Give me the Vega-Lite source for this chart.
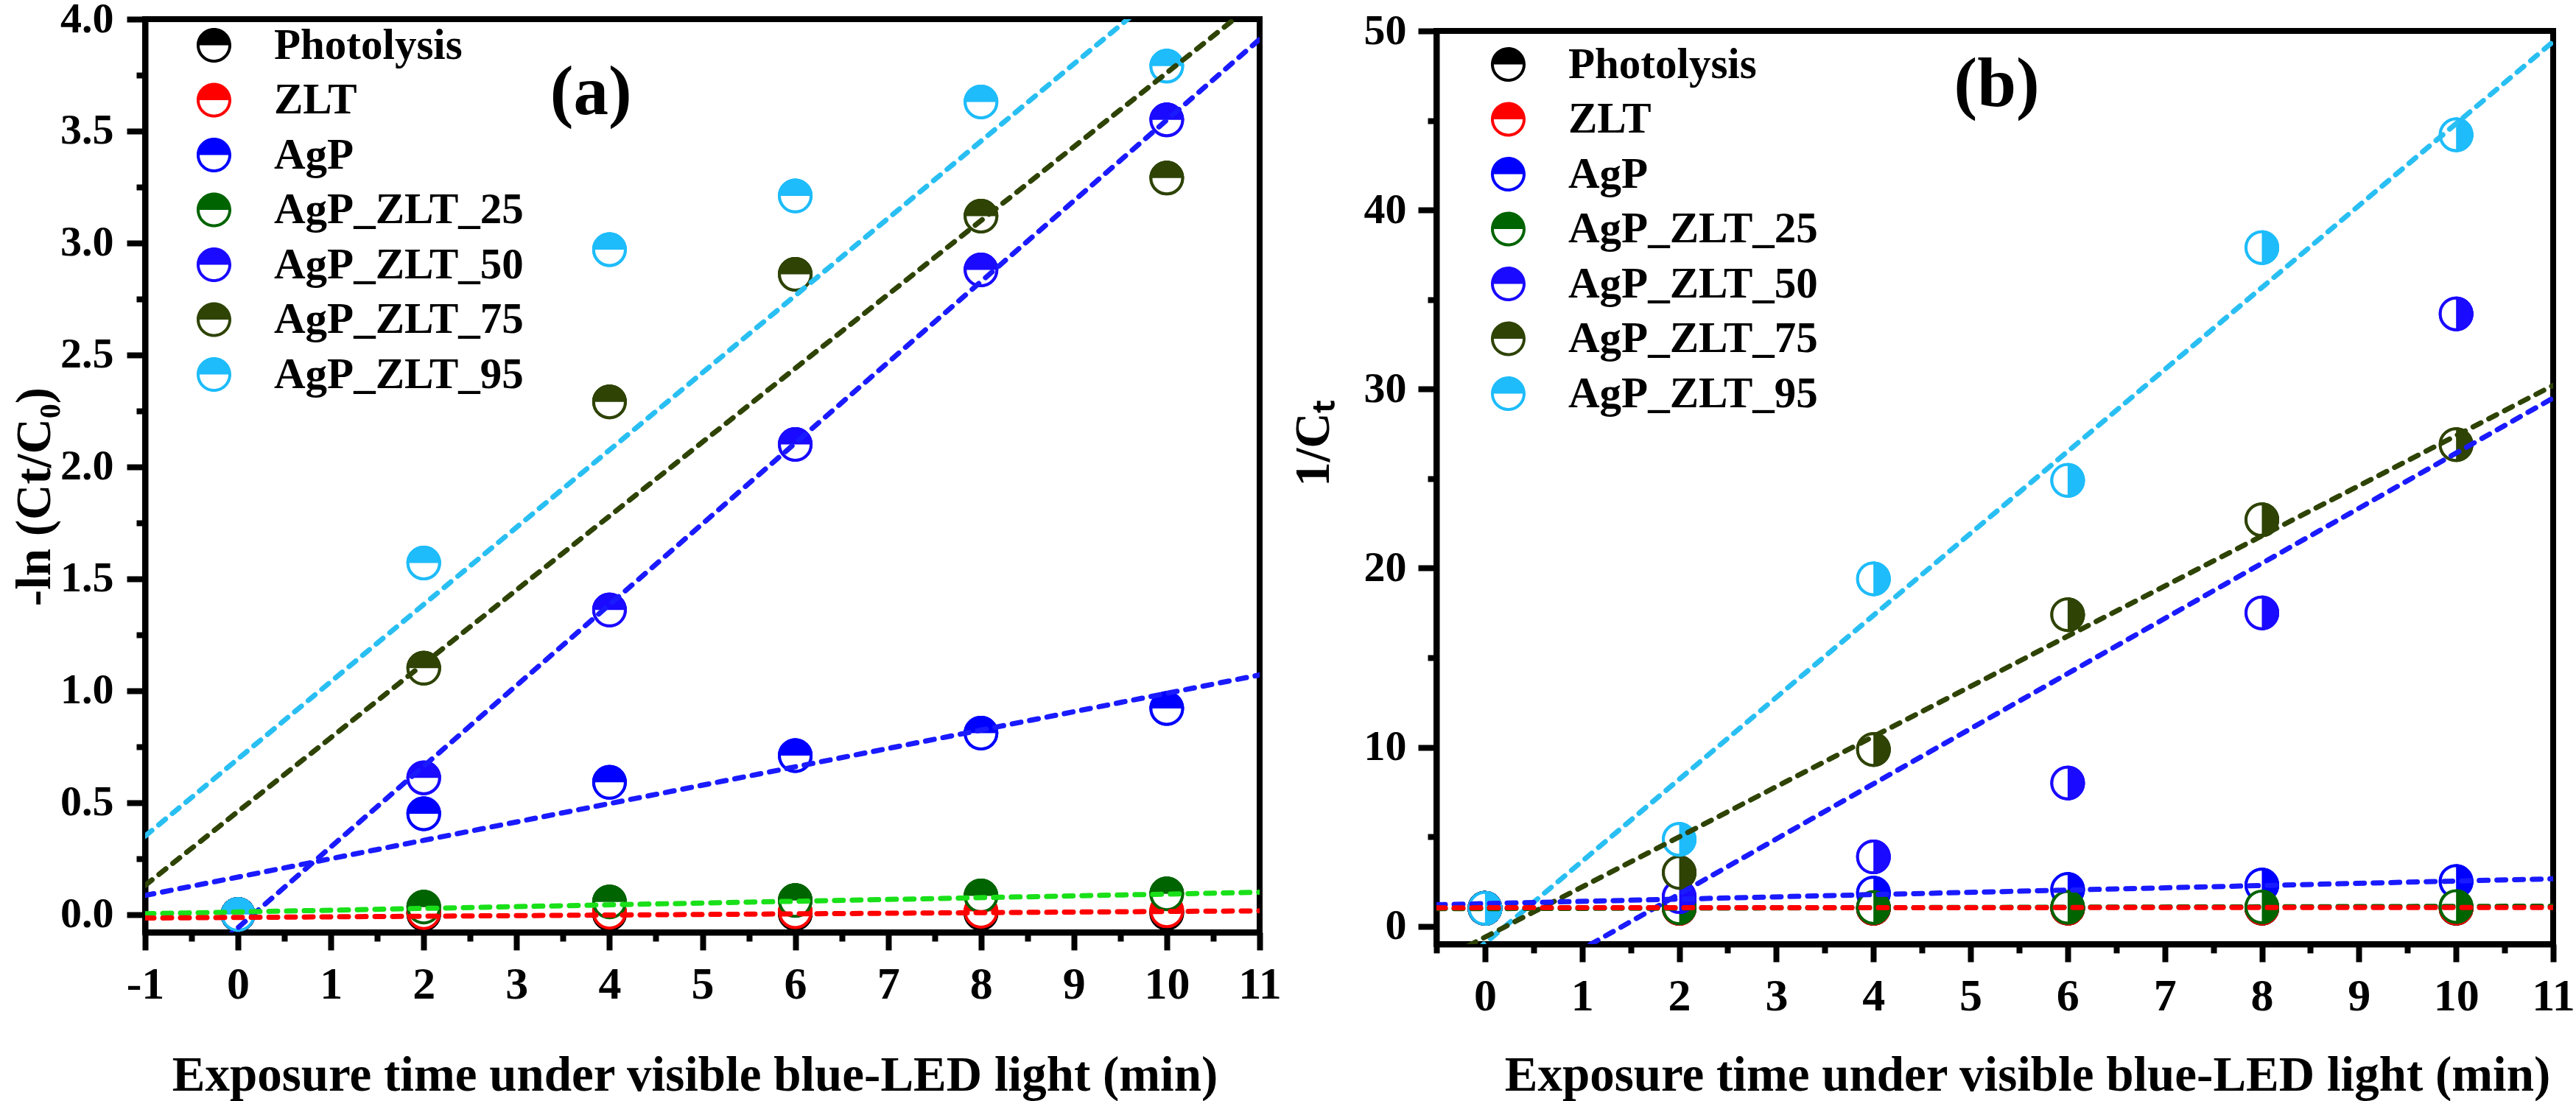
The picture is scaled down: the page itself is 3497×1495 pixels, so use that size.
{
  "$schema": "https://vega.github.io/schema/vega-lite/v6.json",
  "autosize": {"type": "pad"},
  "padding": {"left": 9, "top": -7, "right": 5, "bottom": 5},
  "background": "white",
  "config": {
    "font": "Liberation Serif",
    "view": {"stroke": "black", "strokeWidth": 8},
    "axis": {
      "domainColor": "black", "domainWidth": 8,
      "tickColor": "black", "tickWidth": 8,
      "grid": false, "zindex": 1,
      "labelFont": "Liberation Serif", "labelFontWeight": "bold", "labelColor": "black",
      "labelFlush": false, "labelOverlap": false, "labelBound": false,
      "titleFont": "Liberation Serif", "titleFontWeight": "bold", "titleColor": "black", "titleFontSize": 67
    }
  },
  "datasets": {
    "pts_a": [
      {"series": "Photolysis", "t": 0, "v": 0}, {"series": "Photolysis", "t": 2, "v": 0.002}, {"series": "Photolysis", "t": 4, "v": 0.003}, {"series": "Photolysis", "t": 6, "v": 0.004}, {"series": "Photolysis", "t": 8, "v": 0.005}, {"series": "Photolysis", "t": 10, "v": 0.006},
      {"series": "ZLT", "t": 0, "v": 0}, {"series": "ZLT", "t": 2, "v": 0.008}, {"series": "ZLT", "t": 4, "v": 0.01}, {"series": "ZLT", "t": 6, "v": 0.012}, {"series": "ZLT", "t": 8, "v": 0.014}, {"series": "ZLT", "t": 10, "v": 0.016},
      {"series": "AgP", "t": 0, "v": 0}, {"series": "AgP", "t": 2, "v": 0.45}, {"series": "AgP", "t": 4, "v": 0.59}, {"series": "AgP", "t": 6, "v": 0.71}, {"series": "AgP", "t": 8, "v": 0.81}, {"series": "AgP", "t": 10, "v": 0.92},
      {"series": "AgP_ZLT_25", "t": 0, "v": 0}, {"series": "AgP_ZLT_25", "t": 2, "v": 0.033}, {"series": "AgP_ZLT_25", "t": 4, "v": 0.056}, {"series": "AgP_ZLT_25", "t": 6, "v": 0.062}, {"series": "AgP_ZLT_25", "t": 8, "v": 0.083}, {"series": "AgP_ZLT_25", "t": 10, "v": 0.092},
      {"series": "AgP_ZLT_50", "t": 0, "v": 0}, {"series": "AgP_ZLT_50", "t": 2, "v": 0.61}, {"series": "AgP_ZLT_50", "t": 4, "v": 1.36}, {"series": "AgP_ZLT_50", "t": 6, "v": 2.1}, {"series": "AgP_ZLT_50", "t": 8, "v": 2.88}, {"series": "AgP_ZLT_50", "t": 10, "v": 3.55},
      {"series": "AgP_ZLT_75", "t": 0, "v": 0}, {"series": "AgP_ZLT_75", "t": 2, "v": 1.1}, {"series": "AgP_ZLT_75", "t": 4, "v": 2.29}, {"series": "AgP_ZLT_75", "t": 6, "v": 2.86}, {"series": "AgP_ZLT_75", "t": 8, "v": 3.12}, {"series": "AgP_ZLT_75", "t": 10, "v": 3.29},
      {"series": "AgP_ZLT_95", "t": 0, "v": 0}, {"series": "AgP_ZLT_95", "t": 2, "v": 1.57}, {"series": "AgP_ZLT_95", "t": 4, "v": 2.97}, {"series": "AgP_ZLT_95", "t": 6, "v": 3.21}, {"series": "AgP_ZLT_95", "t": 8, "v": 3.63}, {"series": "AgP_ZLT_95", "t": 10, "v": 3.79}
    ],
    "fit_a": [
      {"series": "AgP_ZLT_95", "lc": "#29bff2", "t": -1, "v": 0.35}, {"series": "AgP_ZLT_95", "lc": "#29bff2", "t": 11, "v": 4.49},
      {"series": "AgP_ZLT_75", "lc": "#2e4304", "t": -1, "v": 0.13}, {"series": "AgP_ZLT_75", "lc": "#2e4304", "t": 11, "v": 4.09},
      {"series": "AgP_ZLT_50", "lc": "#1a1aff", "t": -1, "v": -0.42}, {"series": "AgP_ZLT_50", "lc": "#1a1aff", "t": 11, "v": 3.91},
      {"series": "AgP", "lc": "#1a1aff", "t": -1, "v": 0.085}, {"series": "AgP", "lc": "#1a1aff", "t": 11, "v": 1.07},
      {"series": "AgP_ZLT_25", "lc": "#19e019", "t": -1, "v": 0.003}, {"series": "AgP_ZLT_25", "lc": "#19e019", "t": 11, "v": 0.099},
      {"series": "ZLT", "lc": "#ff0000", "t": -1, "v": -0.016}, {"series": "ZLT", "lc": "#ff0000", "t": 11, "v": 0.016}
    ],
    "pts_b": [
      {"series": "Photolysis", "t": 0, "v": 1}, {"series": "Photolysis", "t": 2, "v": 1.0}, {"series": "Photolysis", "t": 4, "v": 1.0}, {"series": "Photolysis", "t": 6, "v": 1.01}, {"series": "Photolysis", "t": 8, "v": 1.01}, {"series": "Photolysis", "t": 10, "v": 1.01},
      {"series": "ZLT", "t": 0, "v": 1}, {"series": "ZLT", "t": 2, "v": 1.0}, {"series": "ZLT", "t": 4, "v": 1.01}, {"series": "ZLT", "t": 6, "v": 1.01}, {"series": "ZLT", "t": 8, "v": 1.02}, {"series": "ZLT", "t": 10, "v": 1.02},
      {"series": "AgP", "t": 0, "v": 1}, {"series": "AgP", "t": 2, "v": 1.45}, {"series": "AgP", "t": 4, "v": 1.85}, {"series": "AgP", "t": 6, "v": 2.05}, {"series": "AgP", "t": 8, "v": 2.3}, {"series": "AgP", "t": 10, "v": 2.5},
      {"series": "AgP_ZLT_25", "t": 0, "v": 1}, {"series": "AgP_ZLT_25", "t": 2, "v": 1.03}, {"series": "AgP_ZLT_25", "t": 4, "v": 1.05}, {"series": "AgP_ZLT_25", "t": 6, "v": 1.06}, {"series": "AgP_ZLT_25", "t": 8, "v": 1.08}, {"series": "AgP_ZLT_25", "t": 10, "v": 1.1},
      {"series": "AgP_ZLT_50", "t": 0, "v": 1}, {"series": "AgP_ZLT_50", "t": 2, "v": 1.65}, {"series": "AgP_ZLT_50", "t": 4, "v": 3.87}, {"series": "AgP_ZLT_50", "t": 6, "v": 8.0}, {"series": "AgP_ZLT_50", "t": 8, "v": 17.5}, {"series": "AgP_ZLT_50", "t": 10, "v": 34.2},
      {"series": "AgP_ZLT_75", "t": 0, "v": 1}, {"series": "AgP_ZLT_75", "t": 2, "v": 3.0}, {"series": "AgP_ZLT_75", "t": 4, "v": 9.87}, {"series": "AgP_ZLT_75", "t": 6, "v": 17.4}, {"series": "AgP_ZLT_75", "t": 8, "v": 22.7}, {"series": "AgP_ZLT_75", "t": 10, "v": 26.9},
      {"series": "AgP_ZLT_95", "t": 0, "v": 1}, {"series": "AgP_ZLT_95", "t": 2, "v": 4.85}, {"series": "AgP_ZLT_95", "t": 4, "v": 19.4}, {"series": "AgP_ZLT_95", "t": 6, "v": 24.9}, {"series": "AgP_ZLT_95", "t": 8, "v": 37.9}, {"series": "AgP_ZLT_95", "t": 10, "v": 44.2}
    ],
    "fit_b": [
      {"series": "AgP_ZLT_95", "lc": "#29bff2", "t": -0.5, "v": -3.24}, {"series": "AgP_ZLT_95", "lc": "#29bff2", "t": 11, "v": 49.4},
      {"series": "AgP_ZLT_75", "lc": "#2e4304", "t": -0.5, "v": -2.01}, {"series": "AgP_ZLT_75", "lc": "#2e4304", "t": 11, "v": 30.2},
      {"series": "AgP_ZLT_50", "lc": "#1a1aff", "t": -0.5, "v": -5.9}, {"series": "AgP_ZLT_50", "lc": "#1a1aff", "t": 11, "v": 29.5},
      {"series": "AgP", "lc": "#1a1aff", "t": -0.5, "v": 1.2}, {"series": "AgP", "lc": "#1a1aff", "t": 11, "v": 2.65},
      {"series": "AgP_ZLT_25", "lc": "#006400", "t": -0.5, "v": 0.98}, {"series": "AgP_ZLT_25", "lc": "#006400", "t": 11, "v": 1.12},
      {"series": "ZLT", "lc": "#ff0000", "t": -0.5, "v": 1.03}, {"series": "ZLT", "lc": "#ff0000", "t": 11, "v": 1.05}
    ]
  },
  "resolve": {"legend": {"color": "independent"}},
  "spacing": 240,
  "bounds": "flush",
  "hconcat": [
    {
      "width": 1513,
      "height": 1240,
      "data": {"name": "pts_a"},
      "encoding": {
        "x": {
          "field": "t", "type": "quantitative",
          "scale": {"domain": [-1, 11], "nice": false, "zero": false},
          "axis": {
            "title": "Exposure time under visible blue-LED light (min)",
            "values": [-1, -0.5, 0, 0.5, 1, 1.5, 2, 2.5, 3, 3.5, 4, 4.5, 5, 5.5, 6, 6.5, 7, 7.5, 8, 8.5, 9, 9.5, 10, 10.5, 11],
            "tickSize": {"expr": "datum.value % 1 === 0 ? 24 : 12"},
            "labelExpr": "datum.value % 1 === 0 ? '' + datum.value : ''",
            "labelFontSize": 62, "labelPadding": 16, "titlePadding": 60, "titleX": 746
          }
        },
        "y": {
          "field": "v", "type": "quantitative",
          "scale": {"domain": [-0.08, 4], "nice": false, "zero": false},
          "axis": {
            "title": "-ln (Ct/C₀)",
            "values": [0, 0.25, 0.5, 0.75, 1, 1.25, 1.5, 1.75, 2, 2.25, 2.5, 2.75, 3, 3.25, 3.5, 3.75, 4],
            "tickSize": {"expr": "datum.value % 0.5 === 0 ? 25 : 12"},
            "labelExpr": "datum.value % 0.5 === 0 ? format(datum.value, '.1f') : ''",
            "labelFontSize": 58, "labelPadding": 18, "titlePadding": 0, "titleY": 648
          }
        }
      },
      "layer": [
        {
          "mark": {"type": "point", "shape": "M -1 0 A 1 1 0 1 1 1 0 A 1 1 0 1 1 -1 0 Z M -0.83 0 A 0.83 0.83 0 1 0 0.83 0 A 0.83 0.83 0 1 0 -0.83 0 Z M -1 0 A 1 1 0 0 1 1 0 Z", "size": 2209, "filled": true, "opacity": 1, "strokeWidth": 0},
          "encoding": {
            "color": {
              "field": "series", "type": "nominal",
              "scale": {
                "domain": ["Photolysis", "ZLT", "AgP", "AgP_ZLT_25", "AgP_ZLT_50", "AgP_ZLT_75", "AgP_ZLT_95"],
                "range": ["#000000", "#ff0000", "#0000ff", "#006400", "#1a0aff", "#2e4304", "#1ebcfa"]
              },
              "legend": {
                "title": null, "orient": "none", "legendX": 64, "legendY": 6, "padding": 0,
                "symbolType": "M -1 0 A 1 1 0 1 1 1 0 A 1 1 0 1 1 -1 0 Z M -0.83 0 A 0.83 0.83 0 1 0 0.83 0 A 0.83 0.83 0 1 0 -0.83 0 Z M -1 0 A 1 1 0 0 1 1 0 Z",
                "symbolSize": 2209, "symbolStrokeWidth": 0, "symbolOpacity": 1,
                "labelFont": "Liberation Serif", "labelFontWeight": "bold", "labelFontSize": 59, "labelColor": "black",
                "labelOffset": 52, "rowPadding": 14.5, "labelLimit": 0
              }
            }
          }
        },
        {"transform": [{"filter": "datum.series === 'Photolysis'"}], "layer": [
          {"mark": {"type": "point", "shape": "circle", "size": 1849, "filled": true, "fill": "#ffffff", "stroke": "#000000", "strokeWidth": 4, "opacity": 1}},
          {"mark": {"type": "point", "shape": "M -1 0 A 1 1 0 0 1 1 0 Z", "size": 2209, "filled": true, "fill": "#000000", "strokeWidth": 0, "opacity": 1}}
        ]},
        {"transform": [{"filter": "datum.series === 'ZLT'"}], "layer": [
          {"mark": {"type": "point", "shape": "circle", "size": 1849, "filled": true, "fill": "#ffffff", "stroke": "#ff0000", "strokeWidth": 4, "opacity": 1}},
          {"mark": {"type": "point", "shape": "M -1 0 A 1 1 0 0 1 1 0 Z", "size": 2209, "filled": true, "fill": "#ff0000", "strokeWidth": 0, "opacity": 1}}
        ]},
        {"transform": [{"filter": "datum.series === 'AgP'"}], "layer": [
          {"mark": {"type": "point", "shape": "circle", "size": 1849, "filled": true, "fill": "#ffffff", "stroke": "#0000ff", "strokeWidth": 4, "opacity": 1}},
          {"mark": {"type": "point", "shape": "M -1 0 A 1 1 0 0 1 1 0 Z", "size": 2209, "filled": true, "fill": "#0000ff", "strokeWidth": 0, "opacity": 1}}
        ]},
        {"transform": [{"filter": "datum.series === 'AgP_ZLT_25'"}], "layer": [
          {"mark": {"type": "point", "shape": "circle", "size": 1849, "filled": true, "fill": "#ffffff", "stroke": "#006400", "strokeWidth": 4, "opacity": 1}},
          {"mark": {"type": "point", "shape": "M -1 0 A 1 1 0 0 1 1 0 Z", "size": 2209, "filled": true, "fill": "#006400", "strokeWidth": 0, "opacity": 1}}
        ]},
        {"transform": [{"filter": "datum.series === 'AgP_ZLT_50'"}], "layer": [
          {"mark": {"type": "point", "shape": "circle", "size": 1849, "filled": true, "fill": "#ffffff", "stroke": "#1a0aff", "strokeWidth": 4, "opacity": 1}},
          {"mark": {"type": "point", "shape": "M -1 0 A 1 1 0 0 1 1 0 Z", "size": 2209, "filled": true, "fill": "#1a0aff", "strokeWidth": 0, "opacity": 1}}
        ]},
        {"transform": [{"filter": "datum.series === 'AgP_ZLT_75'"}], "layer": [
          {"mark": {"type": "point", "shape": "circle", "size": 1849, "filled": true, "fill": "#ffffff", "stroke": "#2e4304", "strokeWidth": 4, "opacity": 1}},
          {"mark": {"type": "point", "shape": "M -1 0 A 1 1 0 0 1 1 0 Z", "size": 2209, "filled": true, "fill": "#2e4304", "strokeWidth": 0, "opacity": 1}}
        ]},
        {"transform": [{"filter": "datum.series === 'AgP_ZLT_95'"}], "layer": [
          {"mark": {"type": "point", "shape": "circle", "size": 1849, "filled": true, "fill": "#ffffff", "stroke": "#1ebcfa", "strokeWidth": 4, "opacity": 1}},
          {"mark": {"type": "point", "shape": "M -1 0 A 1 1 0 0 1 1 0 Z", "size": 2209, "filled": true, "fill": "#1ebcfa", "strokeWidth": 0, "opacity": 1}}
        ]},
        {
          "data": {"name": "fit_a"},
          "mark": {"type": "line", "clip": true, "strokeWidth": 7, "strokeDash": [12, 12], "strokeCap": "round"},
          "encoding": {
            "color": {"field": "lc", "type": "nominal", "scale": null, "legend": null},
            "detail": {"field": "series", "type": "nominal"}
          }
        },
        {
          "data": {"values": [{"t": 3.8, "v": 3.67, "lab": "(a)"}]},
          "mark": {"type": "text", "font": "Liberation Serif", "fontWeight": "bold", "fontSize": 95, "align": "center", "baseline": "middle", "color": "black"},
          "encoding": {"text": {"field": "lab", "type": "nominal"}}
        }
      ]
    },
    {
      "spacing": 0,
      "bounds": "flush",
      "resolve": {"legend": {"color": "independent"}},
      "vconcat": [
        {
          "width": 1516,
          "height": 16,
          "view": {"stroke": null},
          "data": {"values": [{"k": 0}]},
          "mark": {"type": "point", "opacity": 0},
          "encoding": {}
        },
        {
          "width": 1516,
          "height": 1240,
          "data": {"name": "pts_b"},
          "encoding": {
            "x": {
              "field": "t", "type": "quantitative",
              "scale": {"domain": [-0.5, 11], "nice": false, "zero": false},
              "axis": {
                "title": "Exposure time under visible blue-LED light (min)",
                "values": [-0.5, 0, 0.5, 1, 1.5, 2, 2.5, 3, 3.5, 4, 4.5, 5, 5.5, 6, 6.5, 7, 7.5, 8, 8.5, 9, 9.5, 10, 10.5, 11],
                "tickSize": {"expr": "datum.value % 1 === 0 ? 24 : 12"},
                "labelExpr": "datum.value % 1 === 0 ? '' + datum.value : ''",
                "labelFontSize": 62, "labelPadding": 16, "titlePadding": 44, "titleX": 802
              }
            },
            "y": {
              "field": "v", "type": "quantitative",
              "scale": {"domain": [-1, 50], "nice": false, "zero": false},
              "axis": {
                "title": "1/Cₜ",
                "values": [0, 5, 10, 15, 20, 25, 30, 35, 40, 45, 50],
                "tickSize": {"expr": "datum.value % 10 === 0 ? 25 : 12"},
                "labelExpr": "datum.value % 10 === 0 ? '' + datum.value : ''",
                "labelFontSize": 58, "labelPadding": 16, "titlePadding": 34, "titleY": 560
              }
            }
          },
          "layer": [
            {
              "mark": {"type": "point", "shape": "M -1 0 A 1 1 0 1 1 1 0 A 1 1 0 1 1 -1 0 Z M -0.83 0 A 0.83 0.83 0 1 0 0.83 0 A 0.83 0.83 0 1 0 -0.83 0 Z M -1 0 A 1 1 0 0 1 1 0 Z", "size": 2209, "filled": true, "opacity": 1, "strokeWidth": 0},
              "encoding": {
                "color": {
                  "field": "series", "type": "nominal",
                  "scale": {
                    "domain": ["Photolysis", "ZLT", "AgP", "AgP_ZLT_25", "AgP_ZLT_50", "AgP_ZLT_75", "AgP_ZLT_95"],
                    "range": ["#000000", "#ff0000", "#0000ff", "#006400", "#1a0aff", "#2e4304", "#1ebcfa"]
                  },
                  "legend": {
                    "title": null, "orient": "none", "legendX": 68, "legendY": 16, "padding": 0,
                    "symbolType": "M -1 0 A 1 1 0 1 1 1 0 A 1 1 0 1 1 -1 0 Z M -0.83 0 A 0.83 0.83 0 1 0 0.83 0 A 0.83 0.83 0 1 0 -0.83 0 Z M -1 0 A 1 1 0 0 1 1 0 Z",
                    "symbolSize": 2209, "symbolStrokeWidth": 0, "symbolOpacity": 1,
                    "labelFont": "Liberation Serif", "labelFontWeight": "bold", "labelFontSize": 59, "labelColor": "black",
                    "labelOffset": 52, "rowPadding": 14.5, "labelLimit": 0
                  }
                }
              }
            },
            {"transform": [{"filter": "datum.series === 'Photolysis'"}], "layer": [
              {"mark": {"type": "point", "shape": "circle", "size": 1849, "filled": true, "fill": "#ffffff", "stroke": "#000000", "strokeWidth": 4, "opacity": 1}},
              {"mark": {"type": "point", "shape": "M 0 -1 A 1 1 0 0 1 0 1 Z", "size": 2209, "filled": true, "fill": "#000000", "strokeWidth": 0, "opacity": 1}}
            ]},
            {"transform": [{"filter": "datum.series === 'ZLT'"}], "layer": [
              {"mark": {"type": "point", "shape": "circle", "size": 1849, "filled": true, "fill": "#ffffff", "stroke": "#ff0000", "strokeWidth": 4, "opacity": 1}},
              {"mark": {"type": "point", "shape": "M 0 -1 A 1 1 0 0 1 0 1 Z", "size": 2209, "filled": true, "fill": "#ff0000", "strokeWidth": 0, "opacity": 1}}
            ]},
            {"transform": [{"filter": "datum.series === 'AgP'"}], "layer": [
              {"mark": {"type": "point", "shape": "circle", "size": 1849, "filled": true, "fill": "#ffffff", "stroke": "#0000ff", "strokeWidth": 4, "opacity": 1}},
              {"mark": {"type": "point", "shape": "M 0 -1 A 1 1 0 0 1 0 1 Z", "size": 2209, "filled": true, "fill": "#0000ff", "strokeWidth": 0, "opacity": 1}}
            ]},
            {"transform": [{"filter": "datum.series === 'AgP_ZLT_25'"}], "layer": [
              {"mark": {"type": "point", "shape": "circle", "size": 1849, "filled": true, "fill": "#ffffff", "stroke": "#006400", "strokeWidth": 4, "opacity": 1}},
              {"mark": {"type": "point", "shape": "M 0 -1 A 1 1 0 0 1 0 1 Z", "size": 2209, "filled": true, "fill": "#006400", "strokeWidth": 0, "opacity": 1}}
            ]},
            {"transform": [{"filter": "datum.series === 'AgP_ZLT_50'"}], "layer": [
              {"mark": {"type": "point", "shape": "circle", "size": 1849, "filled": true, "fill": "#ffffff", "stroke": "#1a0aff", "strokeWidth": 4, "opacity": 1}},
              {"mark": {"type": "point", "shape": "M 0 -1 A 1 1 0 0 1 0 1 Z", "size": 2209, "filled": true, "fill": "#1a0aff", "strokeWidth": 0, "opacity": 1}}
            ]},
            {"transform": [{"filter": "datum.series === 'AgP_ZLT_75'"}], "layer": [
              {"mark": {"type": "point", "shape": "circle", "size": 1849, "filled": true, "fill": "#ffffff", "stroke": "#2e4304", "strokeWidth": 4, "opacity": 1}},
              {"mark": {"type": "point", "shape": "M 0 -1 A 1 1 0 0 1 0 1 Z", "size": 2209, "filled": true, "fill": "#2e4304", "strokeWidth": 0, "opacity": 1}}
            ]},
            {"transform": [{"filter": "datum.series === 'AgP_ZLT_95'"}], "layer": [
              {"mark": {"type": "point", "shape": "circle", "size": 1849, "filled": true, "fill": "#ffffff", "stroke": "#1ebcfa", "strokeWidth": 4, "opacity": 1}},
              {"mark": {"type": "point", "shape": "M 0 -1 A 1 1 0 0 1 0 1 Z", "size": 2209, "filled": true, "fill": "#1ebcfa", "strokeWidth": 0, "opacity": 1}}
            ]},
            {
              "data": {"name": "fit_b"},
              "mark": {"type": "line", "clip": true, "strokeWidth": 7, "strokeDash": [12, 12], "strokeCap": "round"},
              "encoding": {
                "color": {"field": "lc", "type": "nominal", "scale": null, "legend": null},
                "detail": {"field": "series", "type": "nominal"}
              }
            },
            {
              "data": {"values": [{"t": 5.27, "v": 47.0, "lab": "(b)"}]},
              "mark": {"type": "text", "font": "Liberation Serif", "fontWeight": "bold", "fontSize": 95, "align": "center", "baseline": "middle", "color": "black"},
              "encoding": {"text": {"field": "lab", "type": "nominal"}}
            }
          ]
        }
      ]
    }
  ]
}
